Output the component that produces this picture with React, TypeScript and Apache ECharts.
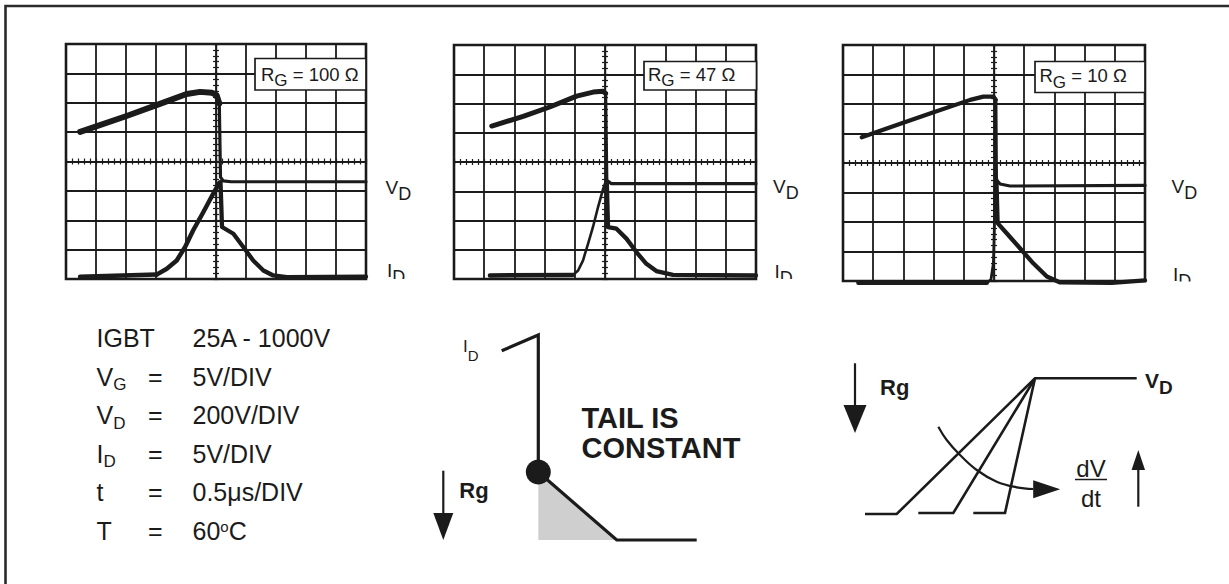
import React, { useEffect, useRef } from 'react';
import * as echarts from 'echarts';

const FONT = '"Liberation Sans", Arial, Helvetica, sans-serif';
const INK = '#1b1b1b';

// ---------- Scope captures (graticule divisions: x -5..5, y -4..4) ----------
const gateResistors = ['100', '47', '10'];

const vdHigh100 = [[-4.53, 1.01], [-2.98, 1.55], [-1.87, 1.96], [-0.98, 2.3], [-0.53, 2.37], [-0.14, 2.34], [0.02, 2.26], [0.11, 1.98]];
const vdLow100 = [[0.11, 1.98], [0.15, -0.53], [0.24, -0.66], [0.5, -0.69], [5, -0.69]];
const idPre100 = [[-4.53, -3.92], [-1.98, -3.85]];
const idRise100 = [[-1.98, -3.85], [-1.64, -3.65], [-1.31, -3.37], [-1.03, -2.91], [-0.76, -2.34], [-0.42, -1.72], [-0.09, -1.09], [0.11, -0.73]];
const idFall100 = [[0.15, -0.7], [0.2, -2.23], [0.58, -2.46], [0.91, -2.91], [1.24, -3.37], [1.58, -3.71], [1.91, -3.88], [2.36, -3.94], [5, -3.92]];

const vdHigh47 = [[-3.75, 1.23], [-2.71, 1.56], [-1.83, 1.88], [-0.94, 2.25], [-0.39, 2.39], [-0.06, 2.42], [0.02, 2.34]];
const vdLow47 = [[0.02, 2.34], [0.06, -0.63], [0.21, -0.74], [5, -0.74]];
const idPre47 = [[-3.81, -3.88], [-1.06, -3.86]];
const idRise47 = [[-1.06, -3.86], [-0.89, -3.71], [-0.73, -3.37], [-0.56, -2.79], [-0.4, -2.23], [-0.23, -1.54], [-0.06, -0.91], [0.02, -0.68]];
const idFall47 = [[0.06, -0.68], [0.1, -2.23], [0.38, -2.28], [0.71, -2.62], [1.04, -3.08], [1.37, -3.48], [1.7, -3.73], [2.25, -3.86], [5, -3.88]];

const vdHigh10 = [[-4.38, 0.87], [-3.22, 1.29], [-2.12, 1.68], [-0.79, 2.14], [-0.35, 2.25], [-0.02, 2.25], [0.06, 2.14]];
const vdLow10 = [[0.06, 2.14], [0.08, -0.58], [0.2, -0.71], [0.53, -0.78], [5, -0.76]];
const idPre10 = [[-4.49, -4.06], [-0.24, -4.06]];
const idRise10 = [[-0.24, -4.06], [-0.1, -3.95], [-0.02, -3.4], [0.01, -2.27], [0.03, -1.14], [0.06, -0.58]];
const idFall10 = [[0.08, -0.58], [0.12, -2.04], [0.42, -2.38], [0.86, -2.89], [1.3, -3.4], [1.75, -3.85], [2.19, -4.05], [3.9, -4.06], [5, -3.98]];

// ---------- Test conditions ----------
const paramNames = ['IGBT', 'V', 'V', 'I', 't', 'T'];
const paramSubs = ['', 'G', 'D', 'D', '', ''];
const paramEquals = ['', '=', '=', '=', '=', '='];
const paramValues = ['25A - 1000V', '5V/DIV', '200V/DIV', '5V/DIV', '0.5μs/DIV', '60°C'];

// ---------- Sketch: tail current (units of the sketch plane) ----------
const idSketch = [[8.17, 18.93], [11.83, 20.5], [11.83, 6.8], [19.67, 0], [27.67, 0]];
const tailArea = [[11.83, 6.8], [19.67, 0]];
const tailPoint = [[11.83, 6.8]];
const rgShaftMid = [[2.33, 6.93], [2.33, 2.6]];
const rgHeadMid = [[2.33, 1.35]];

// ---------- Sketch: drain voltage rise ----------
const vdSketchA = [[4.5, 3.6], [7.67, 3.6], [21.5, 17.17], [31.67, 17.17]];
const vdSketchB = [[9.83, 3.7], [13.33, 3.7], [21.5, 17.17]];
const vdSketchC = [[15.33, 3.7], [18.5, 3.7], [21.5, 17.17]];
const rgShaftRight = [[3.5, 18.67], [3.5, 14.4]];
const rgHeadRight = [[3.5, 13.1]];
const dvdtArc = [[11.83, 12.33], [12.67, 11.0], [14.0, 9.5], [15.67, 8.0], [17.67, 6.83], [19.67, 6.27], [21.33, 6.1]];
const dvdtArcHead = [[22.67, 6.07]];
const upShaft = [[31.83, 4.33], [31.83, 8.0]];
const upHead = [[31.83, 9.0]];

const scopeGrids = [
  { left: 66, top: 44, width: 300, height: 235 },
  { left: 454, top: 45, width: 302, height: 234 },
  { left: 843, top: 45, width: 302, height: 236 },
];
const scopes = [
  { vdHigh: vdHigh100, vdLow: vdLow100, idPre: idPre100, idRise: idRise100, idFall: idFall100, wHigh: 6, wRise: 4.5 },
  { vdHigh: vdHigh47, vdLow: vdLow47, idPre: idPre47, idRise: idRise47, idFall: idFall47, wHigh: 5, wRise: 2.6 },
  { vdHigh: vdHigh10, vdLow: vdLow10, idPre: idPre10, idRise: idRise10, idFall: idFall10, wHigh: 4.2, wRise: 2.8 },
];

// rich-text tokens: main token top-aligned, subscript bottom-aligned in a taller line box
function subRich(fm: number, fs: number, drop: number, weight = 'normal') {
  return {
    m: { fontFamily: FONT, fontSize: fm, fontWeight: weight, lineHeight: fm, verticalAlign: 'top', fill: INK },
    s: {
      fontFamily: FONT, fontSize: fs, fontWeight: weight,
      lineHeight: 0.8465 * fm + drop + 0.1535 * fs, verticalAlign: 'bottom', fill: INK,
    },
    sup: { fontFamily: FONT, fontSize: 15, fontWeight: weight, lineHeight: 15, verticalAlign: 'top', fill: INK },
  };
}

function buildOption() {
  const grid: any[] = scopeGrids.map((g) => ({
    ...g,
    show: true,
    borderColor: INK,
    borderWidth: 2.6,
    backgroundColor: 'transparent',
  }));
  grid.push({ left: 420, top: 310, width: 300, height: 230 });
  grid.push({ left: 820, top: 330, width: 380, height: 220 });

  const centerLine = { color: INK, width: 1.2 };
  const xAxis: any[] = [];
  const yAxis: any[] = [];
  scopeGrids.forEach((_, gi) => {
    ['bottom', 'top'].forEach((pos, k) => {
      xAxis.push({
        gridIndex: gi,
        type: 'value',
        min: -5,
        max: 5,
        interval: 1,
        position: pos,
        axisLine: { show: true, onZero: true, onZeroAxisIndex: 2 * gi, lineStyle: centerLine },
        axisTick: { show: true, length: 3, lineStyle: centerLine },
        minorTick: { show: true, splitNumber: 5, length: 3, lineStyle: centerLine },
        axisLabel: { show: false },
        splitLine: { show: k === 0, lineStyle: { color: INK, width: 1.8 } },
      });
    });
    ['left', 'right'].forEach((pos, k) => {
      yAxis.push({
        gridIndex: gi,
        type: 'value',
        min: -4,
        max: 4,
        interval: 1,
        position: pos,
        axisLine: { show: true, onZero: true, onZeroAxisIndex: 2 * gi, lineStyle: centerLine },
        axisTick: { show: true, length: 3, lineStyle: centerLine },
        minorTick: { show: true, splitNumber: 5, length: 3, lineStyle: centerLine },
        axisLabel: { show: false },
        splitLine: { show: k === 0, lineStyle: { color: INK, width: 1.8 } },
      });
    });
  });
  xAxis.push({ gridIndex: 3, type: 'value', min: 0, max: 30, show: false });
  xAxis.push({ gridIndex: 4, type: 'value', min: 0, max: 38, show: false });
  yAxis.push({ gridIndex: 3, type: 'value', min: 0, max: 23, show: false });
  yAxis.push({ gridIndex: 4, type: 'value', min: 0, max: 22, show: false });

  const line = (ai: number, data: number[][], width: number, extra: any = {}) => ({
    type: 'line',
    xAxisIndex: ai,
    yAxisIndex: ai,
    data,
    symbol: 'none',
    clip: false,
    silent: true,
    z: 5,
    lineStyle: { color: INK, width, cap: 'round', join: 'round' },
    ...extra,
  });
  const head = (ai: number, data: number[][], size: number[], rotate: number) => ({
    type: 'scatter',
    xAxisIndex: ai,
    yAxisIndex: ai,
    data,
    symbol: 'triangle',
    symbolSize: size,
    symbolRotate: rotate,
    clip: false,
    silent: true,
    z: 6,
    itemStyle: { color: INK, opacity: 1 },
  });
  const sketchLine = (ai: number, data: number[][], width: number, extra: any = {}) =>
    line(ai, data, width, { lineStyle: { color: INK, width, cap: 'butt', join: 'miter' }, ...extra });

  const series: any[] = [];
  scopes.forEach((s, gi) => {
    const ai = 2 * gi;
    series.push(line(ai, s.vdHigh, s.wHigh));
    series.push(line(ai, s.vdLow, 3.2));
    series.push(line(ai, s.idPre, 4.5));
    series.push(line(ai, s.idRise, s.wRise));
    series.push(line(ai, s.idFall, 4.3));
  });

  // middle sketch (axis index 6)
  series.push(line(6, tailArea, 0, { lineStyle: { width: 0, opacity: 0 }, areaStyle: { color: '#cfcfcf', origin: 'start', opacity: 1 }, z: 2 }));
  series.push(sketchLine(6, idSketch, 3.2));
  series.push({
    type: 'scatter', xAxisIndex: 6, yAxisIndex: 6, data: tailPoint, symbol: 'circle', symbolSize: 25,
    clip: false, silent: true, z: 7, itemStyle: { color: INK, opacity: 1 },
  });
  series.push(sketchLine(6, rgShaftMid, 2.2));
  series.push(head(6, rgHeadMid, [20, 27], 180));

  // right sketch (axis index 7)
  series.push(sketchLine(7, vdSketchA, 2.6));
  series.push(sketchLine(7, vdSketchB, 2.6));
  series.push(sketchLine(7, vdSketchC, 2.6));
  series.push(sketchLine(7, rgShaftRight, 2.2));
  series.push(head(7, rgHeadRight, [23, 28], 180));
  series.push(sketchLine(7, dvdtArc, 2.2, { smooth: 0.4 }));
  series.push(head(7, dvdtArcHead, [18, 27], -90));
  series.push(sketchLine(7, upShaft, 2.2));
  series.push(head(7, upHead, [13.5, 20], 0));

  // ---------- texts / annotations ----------
  const graphic: any[] = [];
  graphic.push({
    type: 'rect', silent: true, z: 1,
    shape: { x: 5.5, y: 6, width: 1400, height: 800 },
    style: { fill: 'none', stroke: '#2b2b2b', lineWidth: 2.6 },
  });

  // R_G boxes
  const boxes = [
    { x: 255, y: 58.5, w: 111, h: 31.5, tx: 261, base: 80.5 },
    { x: 644, y: 61.5, w: 112.5, h: 28.5, tx: 648, base: 80.5 },
    { x: 1035, y: 61.5, w: 110, h: 31, tx: 1039.5, base: 82 },
  ];
  const boxRich = subRich(18.5, 17, 6);
  boxes.forEach((b, i) => {
    graphic.push({
      type: 'rect', silent: true, z: 50,
      shape: { x: b.x, y: b.y, width: b.w, height: b.h },
      style: { fill: '#fff', stroke: INK, lineWidth: 1.7 },
    });
    graphic.push({
      type: 'text', silent: true, z: 51, x: b.tx, y: b.base - 0.8465 * 18.5,
      style: {
        text: `{m|R}{s|G}{m| = ${gateResistors[i]} Ω}`,
        align: 'left', verticalAlign: 'top', rich: boxRich,
      },
    });
  });

  // V_D / I_D labels beside each scope (I_D cut at the screen edge like the photo)
  const traceRich = subRich(19, 18, 6);
  const traceLabels = [
    { x: 385.5, vBase: 194.5, iBase: 277, clip: 279 },
    { x: 773, vBase: 193.5, iBase: 278.5, clip: 279 },
    { x: 1171.5, vBase: 193.5, iBase: 281.5, clip: 281.5 },
  ];
  traceLabels.forEach((t) => {
    graphic.push({
      type: 'text', silent: true, z: 40, x: t.x, y: t.vBase - 0.8465 * 19,
      style: { text: '{m|V}{s|D}', align: 'left', verticalAlign: 'top', rich: traceRich },
    });
    graphic.push({
      type: 'text', silent: true, z: 40, x: t.x + 1.5, y: t.iBase - 0.8465 * 19,
      style: { text: '{m|I}{s|D}', align: 'left', verticalAlign: 'top', rich: traceRich },
    });
    graphic.push({
      type: 'rect', silent: true, z: 45,
      shape: { x: t.x - 3, y: t.clip, width: 34, height: 16 },
      style: { fill: '#fff', stroke: 'none' },
    });
  });

  // Test-condition block
  const condRich = subRich(25, 17, 5);
  paramNames.forEach((name, i) => {
    const base = 346.7 + i * 38.6;
    const y = base - 0.8465 * 25;
    const nameText = paramSubs[i] ? `{m|${name}}{s|${paramSubs[i]}}` : `{m|${name}}`;
    graphic.push({ type: 'text', silent: true, z: 40, x: 96.5, y, style: { text: nameText, align: 'left', verticalAlign: 'top', rich: condRich } });
    if (paramEquals[i]) {
      graphic.push({ type: 'text', silent: true, z: 40, x: 148, y, style: { text: `{m|${paramEquals[i]}}`, align: 'left', verticalAlign: 'top', rich: condRich } });
    }
    const v = paramValues[i];
    const valueText = v.includes('°') ? v.split('°').map((p) => `{m|${p}}`).join('{sup|o}') : `{m|${v}}`;
    graphic.push({ type: 'text', silent: true, z: 40, x: 192.5, y, style: { text: valueText, align: 'left', verticalAlign: 'top', rich: condRich } });
  });

  // middle sketch texts
  graphic.push({
    type: 'text', silent: true, z: 40, x: 463, y: 352 - 0.8465 * 17,
    style: { text: '{m|I}{s|D}', align: 'left', verticalAlign: 'top', rich: subRich(17, 15, 9) },
  });
  graphic.push({
    type: 'text', silent: true, z: 40, x: 581.5, y: 428.3 - 25.05,
    style: { text: 'TAIL IS\nCONSTANT', fontFamily: FONT, fontSize: 29, fontWeight: 'bold', lineHeight: 30, fill: INK, align: 'left', verticalAlign: 'top' },
  });
  graphic.push({
    type: 'text', silent: true, z: 40, x: 459.3, y: 490.7,
    style: { text: 'Rg', fontFamily: FONT, fontSize: 22, fontWeight: 'bold', fill: INK, align: 'left', verticalAlign: 'middle' },
  });

  // right sketch texts
  graphic.push({
    type: 'text', silent: true, z: 40, x: 880, y: 387.4,
    style: { text: 'Rg', fontFamily: FONT, fontSize: 22, fontWeight: 'bold', fill: INK, align: 'left', verticalAlign: 'middle' },
  });
  graphic.push({
    type: 'text', silent: true, z: 40, x: 1145, y: 388 - 0.8465 * 21,
    style: { text: '{m|V}{s|D}', align: 'left', verticalAlign: 'top', rich: subRich(21, 19, 6.5, 'bold') },
  });
  graphic.push({
    type: 'text', silent: true, z: 40, x: 1091, y: 468.4,
    style: { text: 'dV', fontFamily: FONT, fontSize: 24, fill: INK, align: 'center', verticalAlign: 'middle' },
  });
  graphic.push({
    type: 'line', silent: true, z: 40,
    shape: { x1: 1075, y1: 479.5, x2: 1107, y2: 479.5 },
    style: { stroke: INK, lineWidth: 1.5 },
  });
  graphic.push({
    type: 'text', silent: true, z: 40, x: 1091, y: 498.4,
    style: { text: 'dt', fontFamily: FONT, fontSize: 24, fill: INK, align: 'center', verticalAlign: 'middle' },
  });

  return {
    animation: false,
    backgroundColor: '#ffffff',
    grid,
    xAxis,
    yAxis,
    series,
    graphic,
  };
}

export default function App() {
  const ref = useRef<HTMLDivElement | null>(null);
  useEffect(() => {
    if (!ref.current) return;
    const chart = echarts.init(ref.current, undefined, { renderer: 'svg' });
    chart.setOption(buildOption() as any);
    return () => chart.dispose();
  }, []);
  return (
    <div
      ref={ref}
      style={{ position: 'fixed', left: 0, top: 0, width: 1229, height: 584, background: '#fff' }}
    />
  );
}
